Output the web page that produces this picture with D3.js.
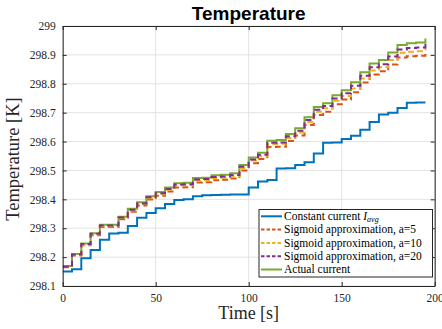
<!DOCTYPE html>
<html>
<head>
<meta charset="utf-8">
<script src="https://cdn.jsdelivr.net/npm/d3@7"></script>
<style>
  html, body { margin: 0; padding: 0; background: #fff; }
  svg { display: block; }
</style>
</head>
<body>
<svg id="chart" width="442" height="329"></svg>
<script>
// ---- data ----
const time = d3.range(0, 200, 5); // 0..195 s
const constantCurrent = [298.150, 298.158, 298.196, 298.225, 298.260, 298.282, 298.284, 298.308, 298.336, 298.353,
  298.369, 298.384, 298.398, 298.400, 298.411, 298.414, 298.415, 298.416, 298.417, 298.417,
  298.441, 298.462, 298.467, 298.507, 298.508, 298.519, 298.528, 298.559, 298.596, 298.597,
  298.609, 298.620, 298.641, 298.668, 298.694, 298.700, 298.716, 298.734, 298.735, 298.735];
const sigmoidA5 = [298.165, 298.206, 298.241, 298.276, 298.304, 298.304, 298.331, 298.357, 298.379, 298.399,
  298.412, 298.427, 298.441, 298.442, 298.458, 298.459, 298.466, 298.468, 298.472, 298.500,
  298.525, 298.540, 298.581, 298.582, 298.602, 298.621, 298.657, 298.692, 298.703, 298.729,
  298.746, 298.771, 298.804, 298.832, 298.843, 298.867, 298.891, 298.895, 298.897, 298.910];
const sigmoidA10 = [298.166, 298.208, 298.243, 298.279, 298.307, 298.307, 298.335, 298.361, 298.384, 298.404,
  298.418, 298.433, 298.448, 298.449, 298.465, 298.466, 298.474, 298.475, 298.480, 298.508,
  298.534, 298.549, 298.591, 298.592, 298.612, 298.631, 298.668, 298.703, 298.715, 298.741,
  298.758, 298.784, 298.818, 298.846, 298.857, 298.882, 298.907, 298.911, 298.913, 298.926];
const sigmoidA20 = [298.167, 298.209, 298.245, 298.281, 298.309, 298.309, 298.337, 298.364, 298.386, 298.407,
  298.421, 298.436, 298.451, 298.452, 298.469, 298.470, 298.477, 298.479, 298.484, 298.513,
  298.538, 298.554, 298.596, 298.597, 298.618, 298.637, 298.675, 298.710, 298.723, 298.749,
  298.767, 298.793, 298.828, 298.857, 298.868, 298.894, 298.919, 298.924, 298.926, 298.940];
const actualCurrent = [298.169, 298.211, 298.247, 298.283, 298.312, 298.312, 298.340, 298.367, 298.390, 298.411,
  298.425, 298.441, 298.456, 298.457, 298.474, 298.475, 298.483, 298.485, 298.490, 298.519,
  298.545, 298.561, 298.603, 298.605, 298.626, 298.646, 298.684, 298.720, 298.733, 298.760,
  298.778, 298.805, 298.840, 298.870, 298.882, 298.908, 298.934, 298.940, 298.943, 298.957];
const xTicks = [0, 50, 100, 150, 200];
const yTicks = [298.1, 298.2, 298.3, 298.4, 298.5, 298.6, 298.7, 298.8, 298.9, 299];
const yTickLabels = ["298.1", "298.2", "298.3", "298.4", "298.5", "298.6", "298.7", "298.8", "298.9", "299"];
const seriesNames = ["Constant current", "Sigmoid approximation, a=5", "Sigmoid approximation, a=10",
  "Sigmoid approximation, a=20", "Actual current"];
const seriesValues = [constantCurrent, sigmoidA5, sigmoidA10, sigmoidA20, actualCurrent];
const seriesColors = ["#0072BD", "#D95319", "#EDB120", "#7E2F8E", "#77AC30"];
const seriesDash = [null, "6,3.5", "6,3.5", "6,3.5", null];

// ---- layout ----
const L = 62.7, R = 434.7, T = 26, B = 286;
const svg = d3.select("#chart");
const serif = "'Liberation Serif', 'DejaVu Serif', serif";
const axisColor = "#262626";

const x = d3.scaleLinear().domain([0, 200]).range([L, R]);
const y = d3.scaleLinear().domain([298.1, 299]).range([B, T]);

// grid
const grid = svg.append("g");
grid.selectAll("line.gx").data(xTicks).enter().append("line")
  .attr("x1", d => x(d)).attr("x2", d => x(d)).attr("y1", T).attr("y2", B)
  .attr("stroke", "#e3e3e3").attr("stroke-width", 1);
grid.selectAll("line.gy").data(yTicks).enter().append("line")
  .attr("y1", d => y(d)).attr("y2", d => y(d)).attr("x1", L).attr("x2", R)
  .attr("stroke", "#e3e3e3").attr("stroke-width", 1);

// series
svg.append("clipPath").attr("id", "clip").append("rect")
  .attr("x", L).attr("y", T).attr("width", R - L).attr("height", B - T);
const line = d3.line().curve(d3.curveStepAfter).x(d => x(d[0])).y(d => y(d[1]));
const plot = svg.append("g").attr("clip-path", "url(#clip)");
const order = [0, 4, 1, 2, 3];
order.forEach(i => {
  const pts = time.map((t, k) => [t, seriesValues[i][k]]);
  plot.append("path").attr("d", line(pts))
    .attr("fill", "none")
    .attr("stroke", seriesColors[i])
    .attr("stroke-width", 2)
    .attr("stroke-dasharray", seriesDash[i])
    .attr("stroke-linejoin", "miter");
});

// axes (box with inward ticks)
const xAxisB = d3.axisBottom(x).tickValues(xTicks).tickSizeInner(-4).tickSizeOuter(0).tickPadding(8);
const xAxisT = d3.axisTop(x).tickValues(xTicks).tickSizeInner(-4).tickSizeOuter(0).tickFormat("");
const yAxisL = d3.axisLeft(y).tickValues(yTicks).tickSizeInner(-4).tickSizeOuter(0).tickPadding(7)
  .tickFormat((d, i) => yTickLabels[i]);
const yAxisR = d3.axisRight(y).tickValues(yTicks).tickSizeInner(-4).tickSizeOuter(0).tickFormat("");

function styleAxis(g) {
  g.select(".domain").attr("stroke", axisColor).attr("stroke-width", 1);
  g.selectAll(".tick line").attr("stroke", axisColor).attr("stroke-width", 1);
  g.selectAll(".tick text").attr("fill", axisColor).style("font-family", serif).style("font-size", "11.5px");
}
svg.append("g").attr("transform", `translate(0,${B})`).call(xAxisB).call(styleAxis);
svg.append("g").attr("transform", `translate(0,${T})`).call(xAxisT).call(styleAxis);
svg.append("g").attr("transform", `translate(${L},0)`).call(yAxisL).call(styleAxis);
svg.append("g").attr("transform", `translate(${R},0)`).call(yAxisR).call(styleAxis);

// labels
svg.append("text").attr("x", (L + R) / 2).attr("y", 20).attr("text-anchor", "middle")
  .style("font-family", "'Liberation Sans', Arial, sans-serif").style("font-weight", "bold")
  .style("font-size", "19px").attr("fill", "#000").text("Temperature");
svg.append("text").attr("x", (L + R) / 2).attr("y", 319).attr("text-anchor", "middle")
  .style("font-family", serif).style("font-size", "18px").attr("fill", axisColor).text("Time [s]");
svg.append("text").attr("transform", `translate(19,${(T + B) / 2 + 3}) rotate(-90)`).attr("text-anchor", "middle")
  .style("font-family", serif).style("font-size", "18.5px").attr("fill", axisColor).text("Temperature [K]");

// legend
const lgX = 259, lgY = 209.5, lgW = 173.5, lgH = 67.5, rowH = 13.3;
const lg = svg.append("g");
lg.append("rect").attr("x", lgX).attr("y", lgY).attr("width", lgW).attr("height", lgH)
  .attr("fill", "#fff").attr("stroke", axisColor).attr("stroke-width", 1);
const texts = [];
seriesNames.forEach((name, i) => {
  const cy = lgY + 6.8 + i * rowH;
  lg.append("line").attr("x1", lgX + 2).attr("x2", lgX + 23).attr("y1", cy).attr("y2", cy)
    .attr("stroke", seriesColors[i]).attr("stroke-width", 2).attr("stroke-dasharray", seriesDash[i] ? "3.5,2" : null);
  const t = lg.append("text").attr("x", lgX + 25).attr("y", cy + 3.6)
    .style("font-family", serif).style("font-size", "10.5px").attr("fill", "#000");
  t.append("tspan").text(name);
  if (i === 0) {
    t.append("tspan").text(" I").style("font-style", "italic");
    t.append("tspan").text("avg").style("font-style", "italic").style("font-size", "7.5px").attr("dy", 2.5);
  }
  texts.push(t);
});
// fit legend font so the longest entry spans the same width as in the reference
const wRef = texts[2].node().getComputedTextLength();
const fs = Math.max(9, Math.min(12.5, 10.5 * 138 / wRef));
texts.forEach(t => t.style("font-size", fs + "px"));
texts[0].selectAll("tspan").filter((d, j) => j === 2).style("font-size", (fs * 0.7) + "px");
</script>
</body>
</html>
